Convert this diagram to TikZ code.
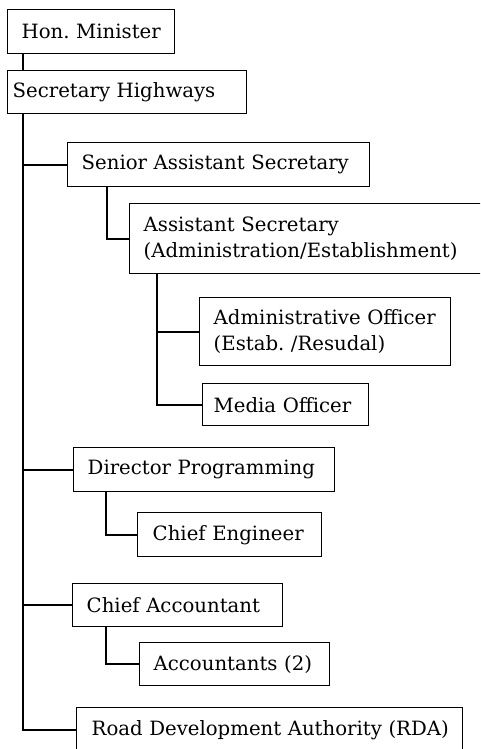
\documentclass[tikz,border=0pt]{standalone}
\usepackage{fontspec}
\setmainfont{DejaVu Serif}
\begin{document}
\frenchspacing
\begin{tikzpicture}[x=1pt,y=-1pt,
  post/.style={draw=black, line width=1.4pt, anchor=north west, align=left,
    inner xsep=14pt, inner ysep=0pt, font=\fontsize{19.7}{26.5}\selectfont},
  link/.style={draw=black, line width=1.6pt},
]
\useasboundingbox (0,0) rectangle (480,749);
\clip (0,0) rectangle (480,749);
\fill[white] (0,0) rectangle (480,749);

% posts: top-left corner, width and height in px; lines are kept unbroken
\node[post, text width=167pt-28pt, minimum height=44pt] (hon) at (7,9) {\mbox{Hon. Minister}};
\node[post, inner xsep=5pt, text width=239pt-10pt, minimum height=43pt] (sec) at (7,70) {\mbox{Secretary Highways}};
\node[post, text width=302pt-28pt, minimum height=44pt] (sas) at (67,142) {\mbox{Senior Assistant Secretary}};
\node[post, text width=356pt-28pt, minimum height=70pt] (as) at (129,203) {\mbox{Assistant Secretary}\\\mbox{(Administration/Establishment)}};
\node[post, text width=251pt-28pt, minimum height=68pt] (ao) at (199,297) {\mbox{Administrative Officer}\\\mbox{(Estab. /Resudal)}};
\node[post, inner xsep=11pt, text width=166pt-22pt, minimum height=42pt] (mo) at (202,383) {\mbox{Media Officer}};
\node[post, text width=261pt-28pt, minimum height=44pt] (dp) at (73,447) {\mbox{Director Programming}};
\node[post, inner xsep=15pt, text width=184pt-30pt, minimum height=44pt] (ce) at (137,512) {\mbox{Chief Engineer}};
\node[post, text width=210pt-28pt, minimum height=43pt] (ca) at (72,583) {\mbox{Chief Accountant}};
\node[post, text width=190pt-28pt, minimum height=43pt] (acc) at (139,642) {\mbox{Accountants (2)}};
\node[post, inner xsep=15pt, text width=386pt-30pt, minimum height=44pt] (rda) at (76,707) {\mbox{Road Development Authority (RDA)}};

% columns of the vertical lines
\coordinate (t0) at (23,0);
\coordinate (t1) at (107,0);
\coordinate (t2) at (157,0);
\coordinate (t3) at (106,0);

% main trunk
\draw[link] (hon.south -| t0) -- (sec.north -| t0);
\draw[link] (sec.south -| t0) |- (rda.west);
\draw[link] (t0 |- sas.west) -- (sas.west);
\draw[link] (t0 |- dp.west) -- (dp.west);
\draw[link] (t0 |- ca.west) -- (ca.west);

% sub-branches
\draw[link] (sas.south -| t1) |- (as.west);
\draw[link] (as.south -| t2) |- (mo.west);
\draw[link] (t2 |- ao.west) -- (ao.west);
\draw[link] (dp.south -| t3) |- (ce.west);
\draw[link] (ca.south -| t3) |- (acc.west);
\end{tikzpicture}
\end{document}
